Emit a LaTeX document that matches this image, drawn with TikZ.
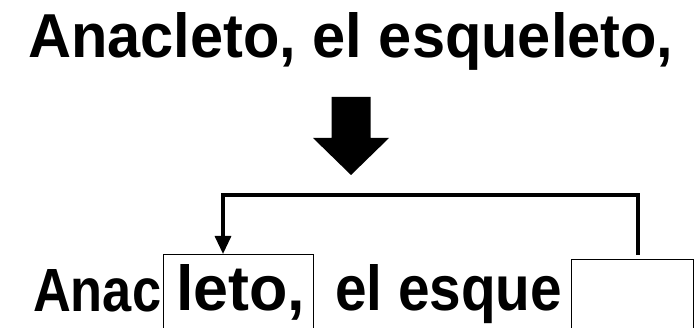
\documentclass[tikz,border=0pt]{standalone}
\usepackage{fontspec}
\setmainfont{Liberation Sans}
\usetikzlibrary{arrows.meta,calc}
\begin{document}
\begin{tikzpicture}[x=1pt,y=-1pt,
  word/.style={inner sep=0pt, anchor=base west, font=\bfseries},
  gapbox/.style={draw, line width=1.4pt, anchor=north west, inner sep=0pt},
  bracket/.style={line width=3.2pt, line join=miter},
]
\useasboundingbox (0,0) rectangle (698,328);
\fill[white] (0,0) rectangle (698,328);
\clip (0,0) rectangle (698,328);
\node[word] (top) at (28,58) {\resizebox{645pt}{45pt}{Anacleto, el esqueleto,}};
\node[word] (w1) at (33,311) {\resizebox{128pt}{42pt}{Anac}};
\node[gapbox, minimum width=150pt, minimum height=100pt] (lbox) at (163,254) {};
\node[word] (w2) at (176,311) {\resizebox{129pt}{46pt}{leto,}};
\node[word] (w3) at (335,311) {\resizebox{227pt}{46pt}{el esque}};
\node[gapbox, minimum width=122pt, minimum height=100pt] (rbox) at (571,259) {};
\coordinate (ah) at (351,97);
\fill[shift={(ah)}] (-19.5,0) -- (19.5,0) -- (19.5,41) -- (38,41) -- (0,78) -- (-38,41) -- (-19.5,41) -- cycle;
\coordinate (rtop) at ($(rbox.north west)+(67,-4)$);
\coordinate (ltip) at ($(lbox.north west)+(60,0)$);
\draw[bracket, -{Triangle[length=18pt,width=16pt]}] (rtop) -- ++(0,-60) -| (ltip);
\end{tikzpicture}
\end{document}
